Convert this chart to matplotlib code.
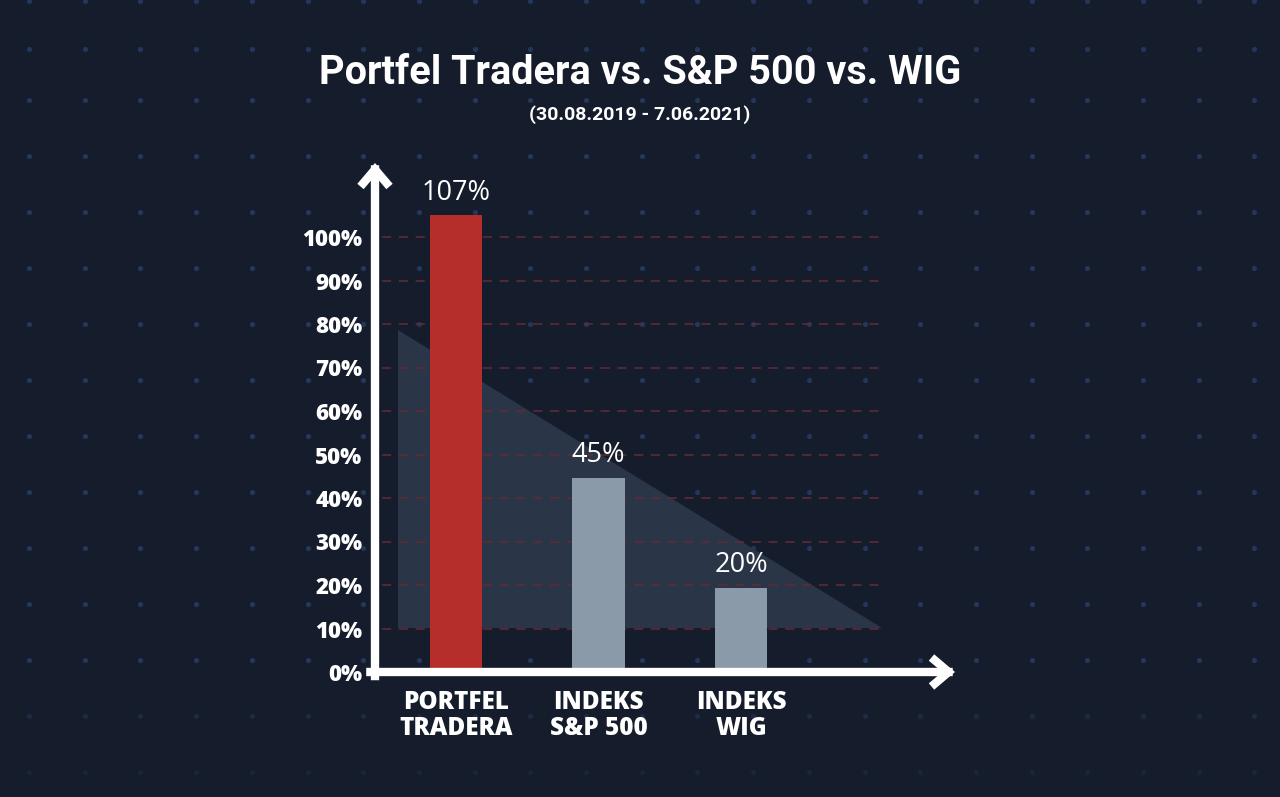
import numpy as np
import matplotlib.pyplot as plt
from matplotlib.patches import Polygon

# data
categories = ['PORTFEL\nTRADERA', 'INDEKS\nS&P 500', 'INDEKS\nWIG']
bar_heights = [105, 44.6, 19.3]
bar_labels = ['107%', '45%', '20%']
bar_colors = ['#b52e2b', '#8a9aa8', '#8a9aa8']
yticks = list(range(0, 101, 10))
ytick_labels = [f'{t}%' for t in yticks]
triangle = [(-0.41, 78.6), (-0.41, 10.2), (2.99, 10.2)]

BG = '#151c2b'
W, H = 1280, 797

fig = plt.figure(figsize=(12.8, 7.97), dpi=100)
fig.patch.set_facecolor(BG)

# background dot grid
bg = fig.add_axes([0, 0, 1, 1])
bg.set_xlim(0, W)
bg.set_ylim(H, 0)
bg.axis('off')
cols = 29 + 55.7 * np.arange(23)
rows = np.r_[1, 49, 100 + 56 * np.arange(13)]
for r in rows:
    a = 1.0 if r < 700 else (0.55 if r < 750 else 0.35)
    bg.scatter(cols, np.full_like(cols, r), s=14, color='#24365a', alpha=a,
               linewidths=0)

# main axes: origin at px (375, 672), x to 955, y top at 163
left, right, bottom, top = 375, 955, 672, 163
ax = fig.add_axes([left / W, (H - bottom) / H, (right - left) / W, (bottom - top) / H])
ax.patch.set_alpha(0)
x0 = (left - 456) / 142.5
x1 = (right - 456) / 142.5
ax.set_xlim(x0, x1)
ax.set_ylim(0, (bottom - top) / 4.35)
for s in ax.spines.values():
    s.set_visible(False)

ax.add_patch(Polygon(triangle, closed=True, color='#2a3547', zorder=1, lw=0))

for t in yticks[1:]:
    ax.plot([x0 + 0.05, 2.99], [t, t], ls=(0, (6, 5)), color='#652a35', lw=1.1, zorder=2)

x = np.arange(len(categories))
ax.bar(x, bar_heights, width=0.37, color=bar_colors, zorder=3)
for xi, h, lab in zip(x, bar_heights, bar_labels):
    ax.text(xi, h + 2.0, lab, ha='center', va='bottom', color='white',
            fontsize=19.5, family='Open Sans', fontweight='normal', zorder=4)

ax.set_xticks(x)
ax.set_xticklabels(categories, color='white', fontsize=17.5, family='Open Sans',
                   fontweight='heavy', linespacing=1.05)
ax.set_yticks(yticks)
ax.set_yticklabels(ytick_labels, color='white', fontsize=16, family='Open Sans',
                   fontweight='heavy')
ax.tick_params(axis='both', length=0)
ax.tick_params(axis='y', pad=9)
ax.tick_params(axis='x', pad=13)

# axis arrows
arrow = dict(arrowstyle='->,head_length=1.0,head_width=0.85', lw=6, color='white',
             shrinkA=0, shrinkB=0, capstyle='projecting', joinstyle='miter')
ax.annotate('', xy=(0, 1.0), xytext=(0, -0.008), xycoords='axes fraction',
            arrowprops=arrow, annotation_clip=False)
ax.annotate('', xy=(1.0, 0), xytext=(-0.008, 0), xycoords='axes fraction',
            arrowprops=arrow, annotation_clip=False)

fig.text(0.5, 1 - 73 / H, 'Portfel Tradera vs. S&P 500 vs. WIG', ha='center',
         va='center', color='white', fontsize=28.5, family='Roboto', fontweight='bold')
fig.text(0.5, 1 - 115 / H, '(30.08.2019 - 7.06.2021)', ha='center', va='center',
         color='white', fontsize=14, family='Roboto', fontweight='bold')

fig.savefig('out.png', dpi=100, facecolor=BG)
